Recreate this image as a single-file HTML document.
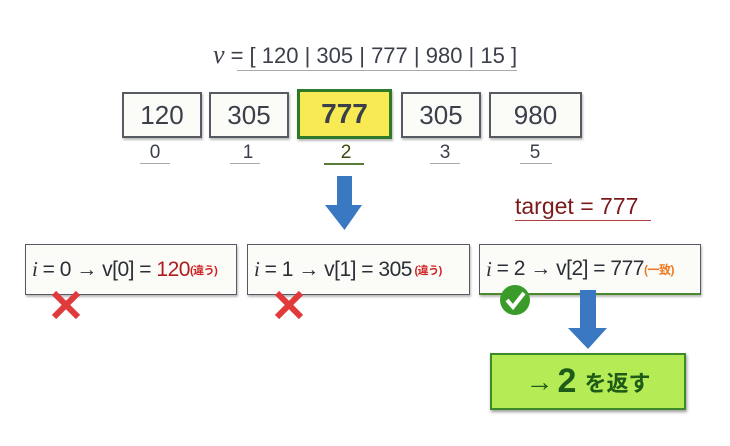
<!DOCTYPE html>
<html><head><meta charset="utf-8"><style>
body{margin:0;width:730px;height:446px;background:#fff;position:relative;overflow:hidden;font-family:"Liberation Sans","Noto Sans CJK JP",sans-serif;color:#3a3f4a}
.a{position:absolute}
.cell{position:absolute;background:#fbfbf8;border:2px solid #555a63;box-shadow:1px 2px 2px #bbb;display:flex;align-items:center;justify-content:center;font-size:26px;color:#3a3f4a;box-sizing:border-box}
.idx{position:absolute;font-size:19px;text-align:center;width:60px;top:142px;color:#3a3f4a}
.ul{position:absolute;height:1px;background:#aaa;top:163px}
.step{position:absolute;top:244px;height:51px;background:#fbfbf8;border:1.5px solid #555a63;box-shadow:1px 2px 2px #bbb;box-sizing:border-box;display:flex;align-items:center;padding-left:6px;font-size:21px;white-space:nowrap;color:#2a2e36;letter-spacing:-0.5px}
</style></head><body>
<div class="a" style="left:0;width:730px;top:40px;text-align:center;font-size:22px;">
<i style="font-family:'Liberation Serif',serif;font-size:26px">ν</i> = [ 120 | 305 | 777 | 980 | 15 ]</div>
<div class="a" style="left:237px;width:280px;top:70px;height:1px;background:#aaa"></div>

<div class="cell" style="left:122px;top:92px;width:80px;height:46px">120</div>
<div class="cell" style="left:209px;top:92px;width:80px;height:46px">305</div>
<div class="cell" style="left:297px;top:89px;width:95px;height:50px;background:#f8ea52;border:3px solid #2f7a2a;font-weight:bold;font-size:28px">777</div>
<div class="cell" style="left:401px;top:92px;width:80px;height:46px">305</div>
<div class="cell" style="left:489px;top:92px;width:93px;height:46px">980</div>

<div class="idx" style="left:125px">0</div><div class="ul" style="left:140px;width:30px"></div>
<div class="idx" style="left:218px">1</div><div class="ul" style="left:230px;width:30px"></div>
<div class="idx" style="left:316px;color:#3c4a10">2</div><div class="ul" style="left:324px;width:40px;height:2px;background:#5a7a3a"></div>
<div class="idx" style="left:415px">3</div><div class="ul" style="left:430px;width:30px"></div>
<div class="idx" style="left:505px">5</div><div class="ul" style="left:520px;width:32px"></div>

<div class="a" style="left:515px;top:193px;font-size:23px;color:#7a1a1a">target = 777</div>
<div class="a" style="left:515px;top:220px;width:136px;height:1px;background:#b04040"></div>

<div class="step" style="left:25px;width:212px"><i style="font-family:'Liberation Serif',serif">i</i>&nbsp;= 0 → v[0] = <span style="color:#b01c1c">&nbsp;120</span><span style="color:#d02020;font-size:11px;font-weight:bold">(違う)</span></div>
<div class="step" style="left:247px;width:223px"><i style="font-family:'Liberation Serif',serif">i</i>&nbsp;= 1 → v[1] = 305 <span style="color:#d02020;font-size:11px;font-weight:bold">&nbsp;(違う)</span></div>
<div class="step" style="left:479px;width:222px;border-bottom:2px solid #4a8a2a"><i style="font-family:'Liberation Serif',serif">i</i>&nbsp;= 2 → v[2] = 777<span style="color:#f07a20;font-size:12px;font-weight:bold">(一致)</span></div>

<svg class="a" style="left:0;top:0" width="730" height="446">
<polygon points="337,176 352,176 352,205 362,205 344.5,230 325,205 337,205" fill="#3b78c2"/>
<polygon points="580,290 596,290 596,328 607,328 588,349 568,328 580,328" fill="#3b78c2"/>
<circle cx="515" cy="300" r="15" fill="#3a9a2a"/>
<polyline points="507,300 513,307 524,293" fill="none" stroke="#fff" stroke-width="4"/>
<g stroke="#e03a3a" stroke-width="6">
<line x1="54" y1="293" x2="78" y2="317"/><line x1="78" y1="293" x2="54" y2="317"/>
<line x1="277" y1="293" x2="301" y2="317"/><line x1="301" y1="293" x2="277" y2="317"/>
</g>
</svg>

<div class="a" style="left:490px;top:353px;width:196px;height:57px;background:#b5ec55;border:2px solid #3c8a28;box-sizing:border-box;box-shadow:1px 2px 3px #999;display:flex;align-items:center;justify-content:center;color:#1e5a18;font-weight:bold;font-size:22px"><span style="font-size:28px">→</span><span style="font-size:34px;margin:0 8px 0 4px">2</span>を返す</div>
</body></html>
